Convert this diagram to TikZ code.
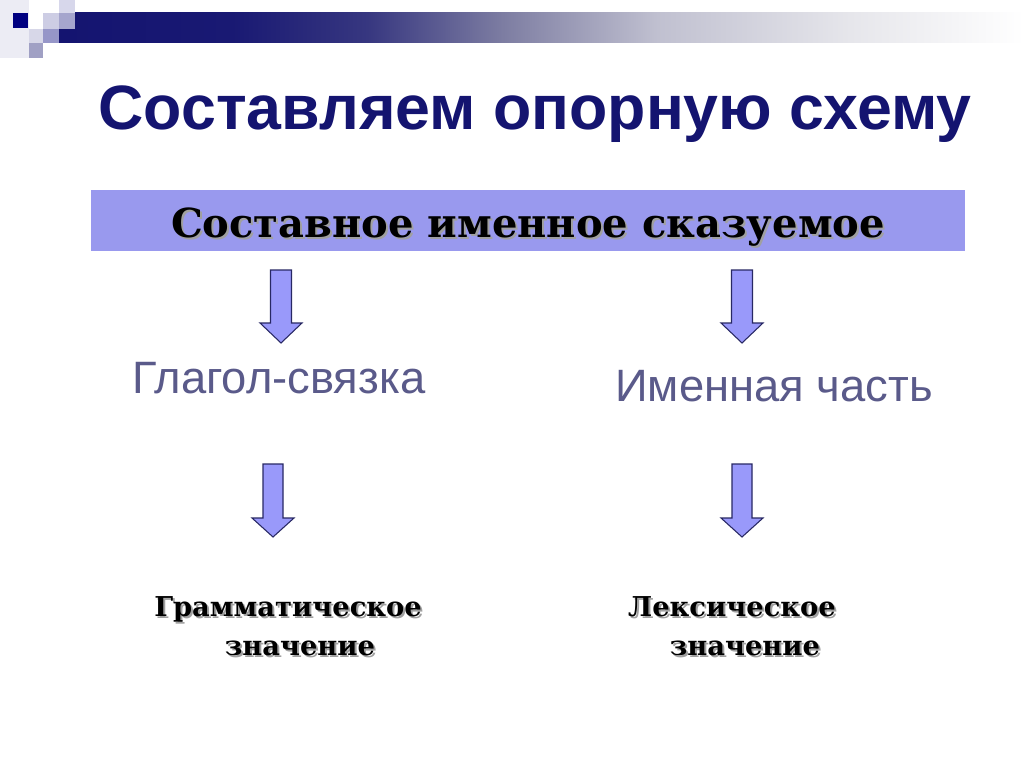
\documentclass[tikz,border=0pt]{standalone}
\usepackage{fontspec}
\setmainfont{Liberation Sans}
\newfontfamily\serifb{DejaVu Serif}
\definecolor{navy}{RGB}{20,20,112}
\definecolor{boxfill}{RGB}{153,153,238}
\definecolor{arrowfill}{RGB}{153,153,250}
\definecolor{arrowline}{RGB}{40,40,100}
\definecolor{graytext}{RGB}{90,90,138}
\definecolor{shadowgray}{RGB}{160,160,160}
\definecolor{barA}{RGB}{25,25,115}
\definecolor{barB}{RGB}{55,55,128}
\definecolor{barC}{RGB}{125,125,162}
\definecolor{barD}{RGB}{192,192,208}
\definecolor{barE}{RGB}{230,230,235}
\pgfdeclarehorizontalshading{barshade}{100bp}{
  color(0bp)=(navy); color(25bp)=(navy); color(34bp)=(barA);
  color(41bp)=(barB); color(48bp)=(barC); color(56bp)=(barD);
  color(66bp)=(barE); color(75bp)=(white); color(100bp)=(white)}
\tikzset{
  titletext/.style={font=\bfseries\fontsize{47}{56}\selectfont, text=navy, anchor=base, inner sep=0},
  partlabel/.style={font=\fontsize{34}{40}\selectfont, text=graytext, anchor=base, inner sep=0},
  boxtext/.style={font=\serifb\bfseries\fontsize{30}{36}\selectfont, text=black, anchor=base, inner sep=0},
  lowtext/.style={font=\serifb\bfseries\fontsize{20.5}{24}\selectfont, text=black, anchor=base, inner sep=0},
  shadow/.style={text=shadowgray},
  blockarrow/.style={fill=arrowfill, draw=arrowline, line width=0.8pt, line join=miter}
}
\begin{document}
\begin{tikzpicture}[x=0.75pt,y=-0.75pt]
\useasboundingbox[fill=white] (0,0) rectangle (1024,767);
% decoration at the top
\fill[shading=barshade] (59,13) rectangle (1024,43);
\fill[color={rgb,255:red,236;green,236;blue,244}] (0,0) rectangle (29,58);
\fill[color={rgb,255:red,0;green,0;blue,128}] (13,13) rectangle (28,28);
\fill[color={rgb,255:red,205;green,205;blue,228}] (43,13) rectangle (59,29);
\fill[color={rgb,255:red,215;green,215;blue,235}] (59,0) rectangle (75,13);
\fill[color={rgb,255:red,165;green,165;blue,205}] (59,13) rectangle (75,29);
\fill[color={rgb,255:red,215;green,215;blue,232}] (29,29) rectangle (43,43);
\fill[color={rgb,255:red,150;green,150;blue,200}] (43,29) rectangle (59,43);
\fill[color={rgb,255:red,160;green,160;blue,196}] (29,43) rectangle (43,58);
% title
\node[titletext] (title) at (535,129) {Составляем опорную схему};
% main box
\node[fill=boxfill, minimum width=874*0.75pt, minimum height=61*0.75pt, inner sep=0, anchor=north west] (mainbox) at (91,190) {};
\node[boxtext, shadow] (mainshadow) at (530,239) {Составное именное сказуемое};
\node[boxtext] (maintext) at (528,237) {Составное именное сказуемое};
% arrows, top row
\draw[blockarrow] (270.5,270) -- (291.5,270) -- (291.5,323) -- (302,323) -- (281,343) -- (260,323) -- (270.5,323) -- cycle;
\draw[blockarrow] (731.5,270) -- (752.5,270) -- (752.5,323) -- (763,323) -- (742,343) -- (721,323) -- (731.5,323) -- cycle;
% middle labels
\node[partlabel] (verb) at (279,393) {Глагол-связка};
\node[partlabel] (nominal) at (774,401) {Именная часть};
% arrows, bottom row
\draw[blockarrow] (263,464) -- (283,464) -- (283,518) -- (294,518) -- (273,537) -- (252,518) -- (263,518) -- cycle;
\draw[blockarrow] (732,464) -- (752,464) -- (752,518) -- (763,518) -- (742,537) -- (721,518) -- (732,518) -- cycle;
% lower labels
\node[lowtext, shadow] (gram1s) at (290,618) {Грамматическое};
\node[lowtext] (gram1) at (288,616) {Грамматическое};
\node[lowtext, shadow] (gram2s) at (302,657) {значение};
\node[lowtext] (gram2) at (300,655) {значение};
\node[lowtext, shadow] (lex1s) at (734,618) {Лексическое};
\node[lowtext] (lex1) at (732,616) {Лексическое};
\node[lowtext, shadow] (lex2s) at (747,657) {значение};
\node[lowtext] (lex2) at (745,655) {значение};
\end{tikzpicture}
\end{document}
